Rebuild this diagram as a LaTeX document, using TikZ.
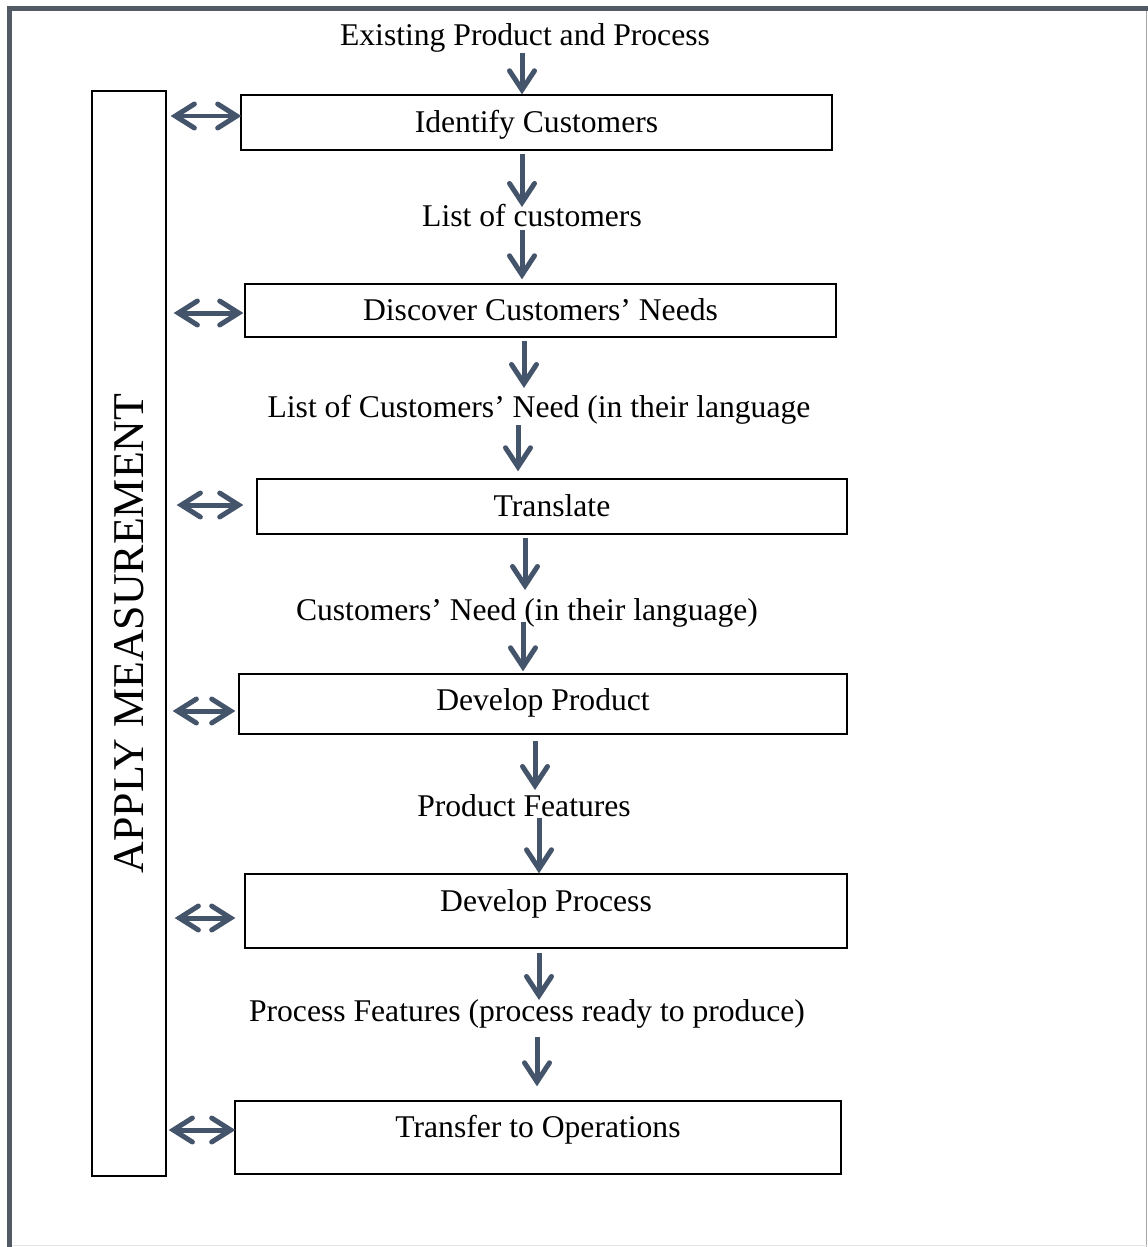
\documentclass[tikz,border=0pt]{standalone}
\usepackage{fontspec}
\setmainfont{Liberation Serif}
\usepackage{tikz}
\definecolor{ArrowSlate}{HTML}{44546A}
\definecolor{FrameGrey}{HTML}{525A66}
\usetikzlibrary{arrows.meta}
\usetikzlibrary{calc}

\begin{document}
\begin{tikzpicture}[x=0.02cm, y=-0.02cm,
    font=\fontsize{18}{21}\selectfont,
    procbox/.style={shape=rectangle, draw, line width=0.8pt,
      inner sep=0pt, text height=4.4mm, text depth=0.4mm},
    flowlabel/.style={inner sep=0pt},
    flowarrow/.style={draw=ArrowSlate, line width=1mm,
      -{Straight Barb[length=3.8mm, width=5mm, line cap=round]}},
    sidearrow/.style={draw=ArrowSlate, line width=1mm,
      {Straight Barb[length=3.8mm, width=4.8mm, line cap=round]}-{Straight Barb[length=3.8mm, width=4.8mm, line cap=round]}}]

    \path [use as bounding box] (0,0) rectangle (1148,1247);

    % frame
    \draw[gray!70, line width=0.4pt] (1146.5,8.5) -- (1146.5,1247);
    \draw[gray!20, line width=0.4pt] (9.5,1245.5) -- (1146.5,1245.5);
    \draw[FrameGrey, line width=1mm] (9.5,1247) -- (9.5,8.5) -- (1148,8.5);

    \node[name=meas,
      shape=rectangle,
      draw, line width=0.8pt,
      rotate=90,
      minimum width=217mm,
      minimum height=14.8mm,
      font=\fontsize{25}{29}\selectfont] at (129,633.5) {APPLY MEASUREMENT};

    \node[name=exist, flowlabel] at (525,38) {Existing Product and Process};

    \node[name=ident,
      procbox,
      minimum width=118.2mm,
      minimum height=11mm] at (536.5,122.5) {Identify Customers};

    \node[name=listc, flowlabel] at (532,216) {List of customers};

    \node[name=disc,
      procbox,
      minimum width=118.2mm,
      minimum height=10.6mm] at (540.5,310.5) {Discover Customers' Needs};

    \node[name=listn, flowlabel] at (539,410) {List of Customers' Need (in their language};

    \node[name=trans,
      procbox,
      minimum width=118mm,
      minimum height=11mm] at (552,506.5) {Translate};

    \node[name=need, flowlabel] at (527,613) {Customers' Need (in their language)};

    \node[name=dprod,
      procbox,
      text height=3.2mm, text depth=0.6mm,
      minimum width=121.6mm,
      minimum height=12mm] at (543,704) {Develop Product};

    \node[name=pfeat, flowlabel] at (524,806) {Product Features};

    \node[name=dproc,
      procbox,
      text height=2mm, text depth=2mm,
      minimum width=120.4mm,
      minimum height=14.8mm] at (546,911) {Develop Process};

    \node[name=procf, flowlabel] at (527,1014) {Process Features (process ready to produce)};

    \node[name=trop,
      procbox,
      text height=2mm, text depth=2mm,
      minimum width=121.2mm,
      minimum height=14.6mm] at (538,1137.5) {Transfer to Operations};

    \path ($(exist)+(-3,15)$) edge[flowarrow] ($(ident.north)+(-14.5,0)$);
    \path ($(ident.south)+(-14.5,3)$) edge[flowarrow] ($(listc)+(-10,-9)$);
    \path ($(listc)+(-10,14)$) edge[flowarrow] ($(disc.north)+(-18.5,-4)$);
    \path ($(disc.south)+(-16.5,3)$) edge[flowarrow] ($(listn)+(-15,-22)$);
    \path ($(listn)+(-21,15)$) edge[flowarrow] ($(trans.north)+(-34,-7)$);
    \path ($(trans.south)+(-27,3)$) edge[flowarrow] ($(need)+(-2,-23)$);
    \path ($(need)+(-4,9)$) edge[flowarrow] ($(dprod.north)+(-20,-2)$);
    \path ($(dprod.south)+(-8,6)$) edge[flowarrow] ($(pfeat)+(11,-16)$);
    \path ($(pfeat)+(15,12)$) edge[flowarrow] ($(dproc.north)+(-7,0)$);
    \path ($(dproc.south)+(-7,4)$) edge[flowarrow] ($(procf)+(12,-14)$);
    \path ($(procf)+(10,23)$) edge[flowarrow] ($(trop.north)+(-1,-14)$);

    \path ($(meas.south|-ident.west)+(4,-6.5)$) edge[sidearrow] ($(ident.west)+(1,-6.5)$);
    \path ($(meas.south|-disc.west)+(7,2.5)$) edge[sidearrow] ($(disc.west)+(-1,2.5)$);
    \path ($(meas.south|-trans.west)+(10,-1.5)$) edge[sidearrow] ($(trans.west)+(-13,-1.5)$);
    \path ($(meas.south|-dprod.west)+(6,7)$) edge[sidearrow] ($(dprod.west)+(-3,7)$);
    \path ($(meas.south|-dproc.west)+(8,7)$) edge[sidearrow] ($(dproc.west)+(-9,7)$);
    \path ($(meas.south|-trop.west)+(2,-7.5)$) edge[sidearrow] ($(trop.west)+(1,-7.5)$);
\end{tikzpicture}
\end{document}
